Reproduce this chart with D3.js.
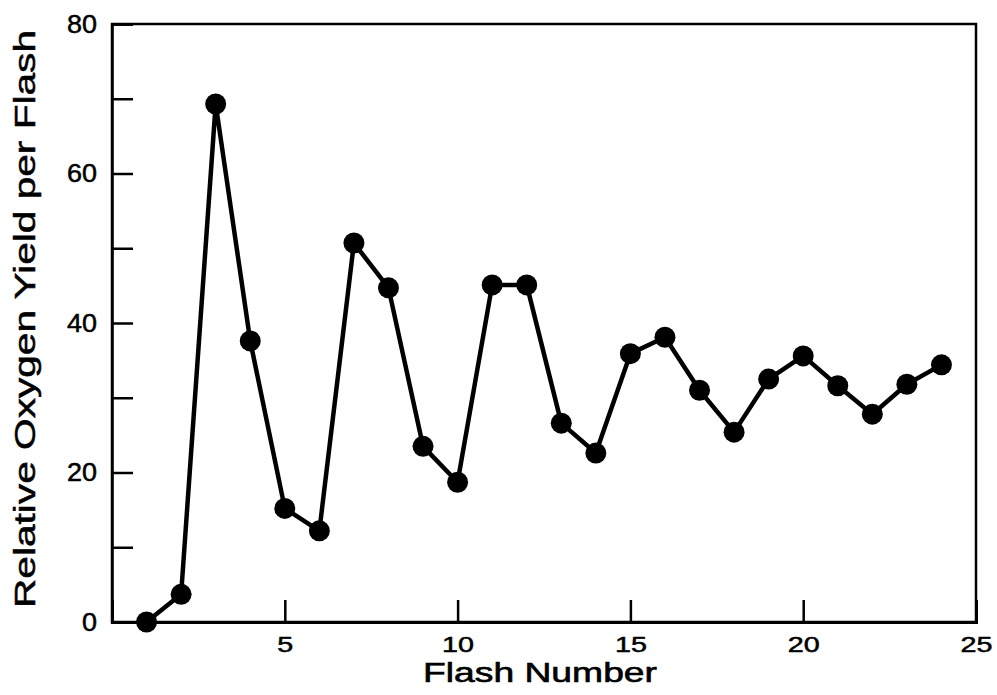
<!DOCTYPE html>
<html>
<head>
<meta charset="utf-8">
<script src="https://cdn.jsdelivr.net/npm/d3@7"></script>
<style>
  body { margin: 0; background: #fff; }
  text { font-family: "Liberation Sans", Arial, Helvetica, sans-serif; fill: #000; }
</style>
</head>
<body>
<svg id="chart"></svg>
<script>
// Data
const flashNumbers = [1, 2, 3, 4, 5, 6, 7, 8, 9, 10, 11, 12, 13, 14, 15, 16, 17, 18, 19, 20, 21, 22, 23, 24];
const oxygenYield = [0, 3.7, 69.3, 37.6, 15.2, 12.2, 50.7, 44.7, 23.5, 18.7, 45.1, 45.1, 26.6, 22.6, 35.9, 38.1, 31.0, 25.4, 32.5, 35.6, 31.6, 27.8, 31.8, 34.4];
const xTicks = [5, 10, 15, 20, 25];
const yTicks = [0, 10, 20, 30, 40, 50, 60, 70, 80];
const yLabelled = [0, 20, 40, 60, 80];

const width = 997, height = 695;
const margin = {top: 24, right: 21, bottom: 73, left: 112};
const innerW = width - margin.left - margin.right;
const innerH = height - margin.top - margin.bottom;

const svg = d3.select("#chart")
    .attr("width", width)
    .attr("height", height);

const g = svg.append("g")
    .attr("transform", `translate(${margin.left},${margin.top})`);

const x = d3.scaleLinear().domain([0, 25]).range([0, innerW]);
const y = d3.scaleLinear().domain([0, 80]).range([innerH, 0]);

// frame
g.append("rect")
    .attr("width", innerW)
    .attr("height", innerH)
    .attr("fill", "none")
    .attr("stroke", "#000")
    .attr("stroke-width", 2.5);

// x axis - ticks point inward
const xAxis = g.append("g")
    .attr("transform", `translate(0,${innerH})`)
    .call(d3.axisBottom(x).tickValues(xTicks).tickSize(-22).tickPadding(14).tickFormat(d3.format("d")));
xAxis.select(".domain").attr("stroke-width", 3);
xAxis.selectAll(".tick line")
    .attr("stroke-width", 2.5)
    .filter(d => d === 25).remove();
xAxis.selectAll("text")
    .attr("font-size", 22)
    .attr("textLength", d => String(d).length * 16)
    .attr("lengthAdjust", "spacingAndGlyphs");

// y axis - ticks point inward, labels every 20
const yAxis = g.append("g")
    .call(d3.axisLeft(y).tickValues(yTicks).tickSize(-21).tickPadding(15)
        .tickFormat(d => yLabelled.includes(d) ? d : ""));
yAxis.select(".domain").attr("stroke-width", 2.5);
yAxis.selectAll(".tick line").attr("stroke-width", 2.5);
yAxis.selectAll("text")
    .attr("font-size", 25)
    .attr("textLength", d => yLabelled.includes(d) ? String(d).length * 15 : 0)
    .attr("lengthAdjust", "spacingAndGlyphs");
g.selectAll(".tick text")
    .attr("fill", "#000")
    .attr("stroke", "#000")
    .attr("stroke-width", 0.5)
    .attr("font-family", "'Liberation Sans', Arial, sans-serif");

// axis titles
svg.append("text")
    .attr("x", 540)
    .attr("y", 682)
    .attr("text-anchor", "middle")
    .attr("font-size", 27)
    .attr("textLength", 234)
    .attr("lengthAdjust", "spacingAndGlyphs")
    .attr("stroke", "#000")
    .attr("stroke-width", 0.6)
    .text("Flash Number");

svg.append("text")
    .attr("transform", "translate(35,319) rotate(-90)")
    .attr("text-anchor", "middle")
    .attr("font-size", 30)
    .attr("textLength", 578)
    .attr("lengthAdjust", "spacingAndGlyphs")
    .attr("stroke", "#000")
    .attr("stroke-width", 0.5)
    .text("Relative Oxygen Yield per Flash");

// line + markers
const points = flashNumbers.map((f, i) => ({f: f, v: oxygenYield[i]}));

const line = d3.line()
    .x(d => x(d.f))
    .y(d => y(d.v));

g.append("path")
    .datum(points)
    .attr("d", line)
    .attr("fill", "none")
    .attr("stroke", "#000")
    .attr("stroke-width", 4.5)
    .attr("stroke-linejoin", "round");

g.selectAll("circle")
    .data(points)
    .enter()
    .append("circle")
    .attr("cx", d => x(d.f))
    .attr("cy", d => y(d.v))
    .attr("r", 10.5)
    .attr("fill", "#000");
</script>
</body>
</html>
